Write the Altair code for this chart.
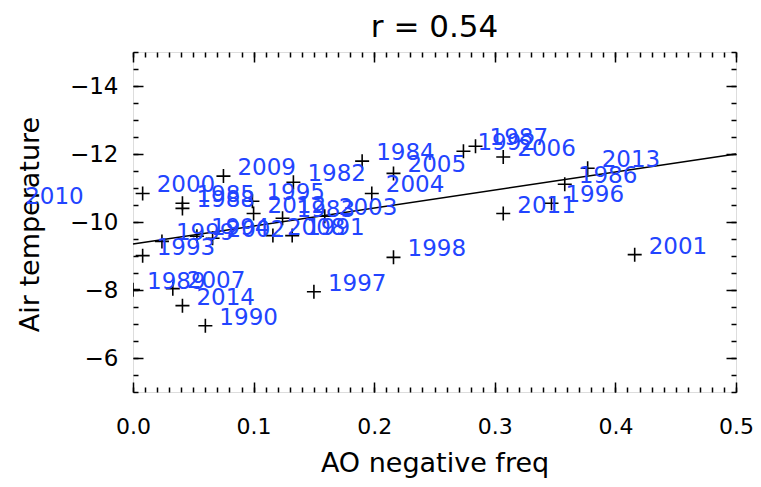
import altair as alt
import pandas as pd

# ---- data ----
years = ["1982", "1983", "1984", "1985", "1986", "1987", "1988", "1989", "1990",
         "1991", "1992", "1993", "1994", "1995", "1996", "1997", "1998", "1999",
         "2000", "2001", "2002", "2003", "2004", "2005", "2006", "2007", "2008",
         "2009", "2010", "2011", "2012", "2013", "2014"]
ao_freq = [0.133, 0.124, 0.190, 0.041, 0.358, 0.284, 0.041, 0.000, 0.060,
           0.132, 0.274, 0.008, 0.053, 0.099, 0.347, 0.150, 0.216, 0.024,
           0.008, 0.416, 0.066, 0.159, 0.198, 0.216, 0.307, 0.033, 0.116,
           0.075, -0.101, 0.307, 0.100, 0.377, 0.041]
air_temp = [-11.17, -10.11, -11.79, -10.55, -11.11, -12.23, -10.40, -8.01, -6.95,
            -9.60, -12.08, -9.01, -9.58, -10.61, -10.55, -7.95, -8.96, -9.43,
            -10.84, -9.04, -9.52, -10.17, -10.84, -11.43, -11.91, -8.04, -9.60,
            -11.35, -10.49, -10.25, -10.25, -11.58, -7.54]

fit_x = [0.0, 0.5]
fit_y = [-9.35, -12.0]

x_major = [0.0, 0.1, 0.2, 0.3, 0.4, 0.5]
x_minor = [round(i * 0.01, 2) for i in range(51)]
y_major = [-14, -12, -10, -8, -6]
y_minor = [-15 + 0.5 * i for i in range(21)]

title_text = "r = 0.54"
x_title = "AO negative freq"
y_title = "Air temperature"

pts = pd.DataFrame({"year": years, "ao": ao_freq, "temp": air_temp})
fit = pd.DataFrame({"ao": fit_x, "temp": fit_y})

W, H = 603, 340
FONT = "DejaVu Sans"
BLUE = "#2244ff"

xs = alt.Scale(domain=[0, 0.5], nice=False, zero=False)
ys = alt.Scale(domain=[-15, -5], reverse=True, nice=False, zero=False)

common = dict(domain=False, grid=False, tickColor="black", tickWidth=1.5,
              labelFlush=False, labelOverlap=False)

ax_bottom = alt.Axis(orient="bottom", values=x_major, format=".1f", offset=-10,
                     tickSize=10, labelFont=FONT, labelFontSize=22, labelColor="black",
                     labelPadding=24, title=x_title, titleFont=FONT, titleFontSize=27,
                     titleFontWeight="normal", titleColor="black", titleX=W / 2,
                     titleY=89, titleBaseline="alphabetic", **common)
ax_left = alt.Axis(orient="left", values=y_major, format="d", offset=-10,
                   tickSize=10, labelFont=FONT, labelFontSize=23, labelColor="black",
                   labelPadding=15, title=y_title, titleFont=FONT, titleFontSize=27,
                   titleFontWeight="normal", titleColor="black", titleX=-113,
                   titleY=172, titleBaseline="middle", titleAngle=270, **common)

def tick_axis(orient, values, size):
    return alt.Axis(orient=orient, values=values, offset=-size, tickSize=size,
                    labels=False, title="", **common)

plus = "M-1,0L1,0M0,-1L0,1"

points = alt.Chart(pts).mark_point(shape=plus, filled=False, color="black",
                                   strokeWidth=1.6, size=196, clip=True, opacity=1).encode(
    x=alt.X("ao:Q", scale=xs, axis=ax_bottom),
    y=alt.Y("temp:Q", scale=ys, axis=ax_left),
)

labels = alt.Chart(pts).mark_text(align="left", baseline="middle", dx=14, dy=-8,
                                  font=FONT, fontSize=23, color=BLUE).encode(
    x=alt.X("ao:Q", scale=xs, axis=None),
    y=alt.Y("temp:Q", scale=ys, axis=None),
    text="year:N",
)

line = alt.Chart(fit).mark_line(color="black", strokeWidth=1.5).encode(
    x=alt.X("ao:Q", scale=xs, axis=None),
    y=alt.Y("temp:Q", scale=ys, axis=None),
)

def ghost(xa, ya):
    return alt.Chart(fit).mark_point(opacity=0, size=1).encode(
        x=alt.X("ao:Q", scale=xs, axis=xa),
        y=alt.Y("temp:Q", scale=ys, axis=ya),
    )

g1 = ghost(tick_axis("bottom", x_minor, 5), tick_axis("left", y_minor, 5))
g2 = ghost(tick_axis("top", x_major, 10), tick_axis("right", y_major, 10))
g3 = ghost(tick_axis("top", x_minor, 5), tick_axis("right", y_minor, 5))

chart = alt.layer(points, line, labels, g1, g2, g3).resolve_axis(
    x="independent", y="independent"
).properties(
    width=W, height=H,
    title=alt.TitleParams(title_text, font=FONT, fontSize=31, fontWeight="normal",
                          color="black", anchor="middle", offset=7),
    autosize=alt.AutoSizeParams(type="none"),
    padding={"left": 125, "top": 44, "right": 17, "bottom": 87},
).configure_view(stroke="black", strokeWidth=1.5).configure(background="white")

chart.save("out.html", embed_options={"renderer": "svg", "actions": False})
